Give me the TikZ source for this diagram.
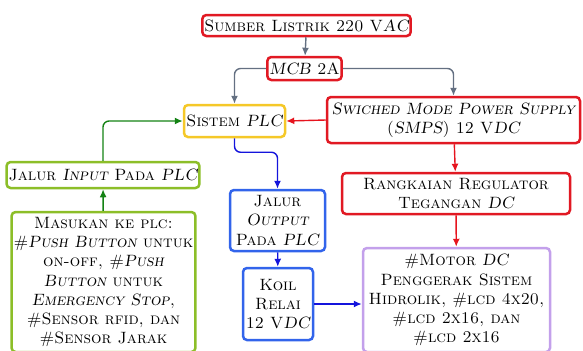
\documentclass[tikz,border=0pt]{standalone}
\usepackage{xcolor}
\usepackage{tikz}
\usetikzlibrary{arrows.meta}

\definecolor{boxred}{RGB}{225,25,35}
\definecolor{boxyellow}{RGB}{245,200,40}
\definecolor{boxgreen}{RGB}{140,190,40}
\definecolor{boxblue}{RGB}{50,100,235}
\definecolor{boxpurple}{RGB}{195,160,235}
\definecolor{arrgray}{RGB}{100,112,130}
\definecolor{arrgreen}{RGB}{20,130,20}
\definecolor{arrblue}{RGB}{20,20,220}
\definecolor{arrred}{RGB}{230,20,30}

\newcommand{\itsc}[1]{{\fontshape{scsl}\selectfont #1}}

\begin{document}
\begin{tikzpicture}[
  x=0.5pt, y=-0.5pt,
  font=\fontsize{8.2}{9.6}\selectfont\scshape,
  box/.style={draw, line width=1.25pt, rounded corners=2pt, align=center, inner sep=1pt, fill=white},
  arr/.style={-{Latex[length=4pt,width=3.5pt]}, line width=0.7pt, rounded corners=3pt}
]
  \useasboundingbox (0,0) rectangle (583,350);
  % kotak
  \node[box, draw=boxred, minimum width=103.5pt, minimum height=10.5pt] (sumber) at (306.5,25.5) {Sumber Listrik 220 V\itsc{AC}};
  \node[box, draw=boxred, minimum width=36.5pt, minimum height=11.5pt] (mcb) at (304.5,68.5) {\itsc{MCB} 2A};
  \node[box, draw=boxyellow, minimum width=50.5pt, minimum height=16pt] (plc) at (234.5,121) {Sistem \itsc{PLC}};
  \node[box, draw=boxred, minimum width=126.5pt, minimum height=23pt] (smps) at (453.5,120) {\itsc{Swiched Mode Power Supply}\\(\itsc{SMPS}) 12 V\itsc{DC}};
  \node[box, draw=boxgreen, minimum width=96pt, minimum height=13pt] (input) at (103,175) {Jalur \itsc{Input} Pada \itsc{PLC}};
  \node[box, draw=boxgreen, minimum width=91.5pt, minimum height=70pt] (masukan) at (103.5,282) {Masukan ke plc:\\\#\itsc{Push Button} untuk\\on-off, \#\itsc{Push}\\\itsc{Button} untuk\\\itsc{Emergency Stop},\\\#Sensor rfid, dan\\\#Sensor Jarak};
  \node[box, draw=boxblue, minimum width=47.5pt, minimum height=30.5pt] (output) at (277.5,220.5) {Jalur\\\itsc{Output}\\Pada \itsc{PLC}};
  \node[box, draw=boxblue, minimum width=35pt, minimum height=36pt] (koil) at (278,304) {Koil\\Relai\\12 V\itsc{DC}};
  \node[box, draw=boxred, minimum width=114pt, minimum height=20.5pt] (regulator) at (456,193.5) {Rangkaian Regulator\\Tegangan \itsc{DC}};
  \node[box, draw=boxpurple, minimum width=93.5pt, minimum height=52pt] (motor) at (456.5,300) {\#Motor \itsc{DC}\\Penggerak Sistem\\Hidrolik, \#lcd 4x20,\\\#lcd 2x16, dan\\\#lcd 2x16};
  % jalur daya
  \draw[arr, arrgray] (sumber) -- (mcb);
  \draw[arr, arrgray] (mcb.west) -| (plc.north);
  \draw[arr, arrgray] (mcb.east) -| (smps.north);
  \draw[arr, arrred] (smps.west) -- (plc.east);
  \draw[arr, arrred] (smps) -- (regulator);
  \draw[arr, arrred] (regulator) -- (motor);
  % jalur sinyal
  \draw[arr, arrgreen] (masukan) -- (input);
  \draw[arr, arrgreen] (input.north) |- (plc.west);
  \draw[arr, arrblue] (plc.south) -- ++(0,14) -| (output.north);
  \draw[arr, arrblue] (output) -- (koil);
  \draw[arr, arrblue] (koil.east) -- (koil.east -| motor.west);
\end{tikzpicture}
\end{document}
